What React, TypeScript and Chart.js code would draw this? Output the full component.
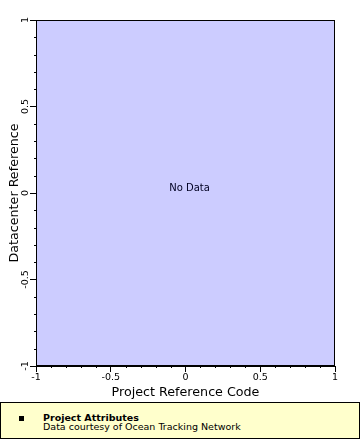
import React, { useEffect, useRef } from "react";
import { Chart, registerables } from "chart.js";

Chart.register(...registerables);

// ---- data ----
const seriesName = "Project Attributes";
const sourceNote = "Data courtesy of Ocean Tracking Network";
const xValues: number[] = [];
const yValues: number[] = [];
const axisMin = -1;
const axisMax = 1;
const majorStep = 0.5;
const minorDivisions = 20; // minor ticks every 0.1
const xTitle = "Project Reference Code";
const yTitle = "Datacenter Reference";
const emptyMessage = "No Data";

const FONT = "'DejaVu Sans', sans-serif";

const fmt = (v: any) => String(Number(Number(v).toFixed(2)));

const plotPlugin = {
  id: "plotDecor",
  beforeDraw(chart: any) {
    const { ctx, chartArea: a } = chart;
    ctx.save();
    ctx.fillStyle = "#ccccff";
    ctx.fillRect(a.left, a.top, a.right - a.left, a.bottom - a.top);
    ctx.restore();
  },
  afterDraw(chart: any) {
    const { ctx, chartArea: a } = chart;
    const xs = chart.scales.x;
    const ys = chart.scales.y;
    ctx.save();
    ctx.strokeStyle = "#000";
    ctx.lineWidth = 1;
    ctx.strokeRect(Math.round(a.left) + 0.5, Math.round(a.top) + 0.5, Math.round(a.right - a.left) - 1, Math.round(a.bottom - a.top) - 1);
    // minor ticks
    ctx.beginPath();
    for (let i = 0; i <= minorDivisions; i++) {
      if (i % 5 === 0) continue;
      const v = axisMin + ((axisMax - axisMin) * i) / minorDivisions;
      const px = Math.round(xs.getPixelForValue(v)) + 0.5;
      ctx.moveTo(px, a.bottom);
      ctx.lineTo(px, a.bottom + 2);
      const py = Math.round(ys.getPixelForValue(v)) + 0.5;
      ctx.moveTo(a.left, py);
      ctx.lineTo(a.left - 2, py);
    }
    ctx.stroke();
    // no-data message
    const hasData = chart.data.datasets.some((d: any) => d.data.length > 0);
    if (!hasData) {
      ctx.fillStyle = "#000022";
      ctx.font = `10px ${FONT}`;
      ctx.textAlign = "center";
      ctx.textBaseline = "middle";
      ctx.fillText(emptyMessage, (a.left + a.right) / 2 + 4, (a.top + a.bottom) / 2 - 5);
    }
    ctx.restore();
  },
};

export default function App() {
  const ref = useRef<HTMLCanvasElement | null>(null);

  useEffect(() => {
    if (!ref.current) return;
    Chart.defaults.font.family = FONT;
    const chart = new Chart(ref.current, {
      type: "scatter",
      data: {
        datasets: [
          {
            label: seriesName,
            data: xValues.map((x, i) => ({ x, y: yValues[i] })),
            backgroundColor: "#000",
            pointStyle: "rect",
          },
        ],
      },
      options: {
        animation: false,
        responsive: false,
        layout: { padding: { top: 20, right: 25, left: 0, bottom: 0 } },
        plugins: { legend: { display: false }, tooltip: { enabled: false } },
        scales: {
          x: {
            type: "linear",
            min: axisMin,
            max: axisMax,
            afterFit: (s: any) => {
              s.height = 34;
            },
            ticks: {
              stepSize: majorStep,
              maxRotation: 0,
              color: "#000",
              padding: 0,
              callback: fmt,
              font: { size: 9.5, family: FONT },
            },
            grid: { drawOnChartArea: false, tickLength: 6, tickColor: "#000" },
            border: { color: "#000" },
            title: {
              display: true,
              text: xTitle,
              color: "#000",
              font: { size: 12.7, family: FONT },
              padding: { top: 0, bottom: 0 },
            },
          },
          y: {
            type: "linear",
            min: axisMin,
            max: axisMax,
            afterFit: (s: any) => {
              s.width = 36;
            },
            ticks: {
              stepSize: majorStep,
              minRotation: 90,
              maxRotation: 90,
              crossAlign: "center",
              color: "#000",
              padding: -5,
              callback: fmt,
              font: { size: 9.5, family: FONT },
            },
            grid: { drawOnChartArea: false, tickLength: 6, tickColor: "#000" },
            border: { color: "#000" },
            title: {
              display: true,
              text: yTitle,
              color: "#000",
              font: { size: 12.7, family: FONT },
              padding: { top: 7, bottom: 0 },
            },
          },
        },
      },
      plugins: [plotPlugin],
    } as any);
    return () => chart.destroy();
  }, []);

  return (
    <div style={{ position: "absolute", left: 0, top: 0, width: 360, height: 440, background: "#fff" }}>
      <canvas ref={ref} width={360} height={400} style={{ position: "absolute", left: 0, top: 0, width: 360, height: 400 }} />
      <div
        style={{
          position: "absolute",
          left: 0,
          top: 402,
          width: 360,
          height: 37,
          boxSizing: "border-box",
          border: "1px solid #000",
          background: "#ffffcc",
          fontFamily: FONT,
          fontSize: 9.5,
          lineHeight: "9px",
          color: "#000",
        }}
      >
        <div style={{ position: "absolute", left: 18, top: 13, width: 5, height: 5, background: "#000" }} />
        <div style={{ position: "absolute", left: 42, top: 10, fontWeight: "bold", whiteSpace: "nowrap" }}>{seriesName}</div>
        <div style={{ position: "absolute", left: 42, top: 19, whiteSpace: "nowrap" }}>{sourceNote}</div>
      </div>
    </div>
  );
}
